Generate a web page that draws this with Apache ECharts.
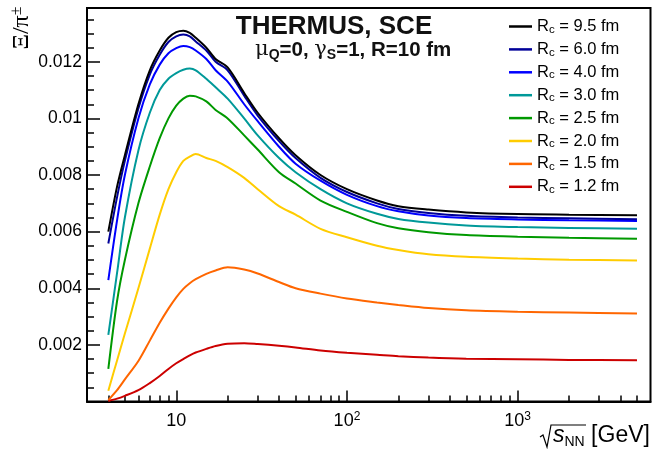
<!DOCTYPE html>
<html>
<head>
<meta charset="utf-8">
<script src="https://cdn.jsdelivr.net/npm/echarts@6/dist/echarts.min.js"></script>
<style>
  html, body { margin: 0; padding: 0; background: #ffffff; }
  #chart { width: 652px; height: 449px; }
</style>
</head>
<body>
<div id="chart"></div>
<script>
// Collision energies sqrt(s_NN) in GeV
const energies = [4, 4.5, 5, 6, 7, 8, 9, 10, 11, 12, 13, 15, 17, 20, 25, 30, 40, 50, 70, 100, 150, 200, 300, 500, 1000, 2000, 5000];

// Xi / pi ratio for each canonical correlation radius R_c
const rc95 = [0.0060, 0.00759, 0.0087, 0.0105, 0.0117, 0.0124, 0.01285, 0.01305, 0.0131, 0.01302, 0.01285, 0.0125, 0.0121, 0.0118, 0.0109, 0.0102, 0.0093, 0.0087, 0.0080, 0.0075, 0.0071, 0.0069, 0.00678, 0.00668, 0.00662, 0.0066, 0.00658];
const rc60 = [0.00558, 0.00722, 0.0085, 0.01035, 0.01155, 0.01225, 0.0127, 0.0129, 0.01296, 0.0129, 0.01272, 0.0124, 0.0120, 0.0117, 0.0108, 0.0101, 0.0092, 0.0086, 0.0079, 0.0074, 0.0070, 0.0068, 0.00666, 0.00656, 0.0065, 0.00647, 0.00644];
const rc40 = [0.00429, 0.0064, 0.0080, 0.0100, 0.0112, 0.0119, 0.0123, 0.01248, 0.01256, 0.01252, 0.0124, 0.0121, 0.0117, 0.0113, 0.0105, 0.0099, 0.0090, 0.0084, 0.0078, 0.0073, 0.0069, 0.00672, 0.00657, 0.00648, 0.00643, 0.0064, 0.00638];
const rc30 = [0.00235, 0.00454, 0.0065, 0.00887, 0.0102, 0.0110, 0.0114, 0.0116, 0.01172, 0.01176, 0.0117, 0.0114, 0.0111, 0.0107, 0.0100, 0.0094, 0.0086, 0.0081, 0.0075, 0.0070, 0.00663, 0.00645, 0.00632, 0.00622, 0.00616, 0.00613, 0.0061];
const rc25 = [0.00115, 0.00355, 0.0050, 0.0070, 0.0083, 0.0093, 0.0100, 0.01045, 0.0107, 0.0108, 0.01078, 0.0106, 0.0103, 0.0100, 0.0094, 0.0089, 0.0081, 0.0077, 0.0071, 0.0067, 0.0063, 0.00612, 0.00598, 0.00588, 0.00582, 0.00578, 0.00575];
const rc20 = [0.00038, 0.00145, 0.0024, 0.0040, 0.0054, 0.0066, 0.0075, 0.0081, 0.0085, 0.00865, 0.00874, 0.0086, 0.0085, 0.00828, 0.0079, 0.0075, 0.0069, 0.0066, 0.0061, 0.0058, 0.0055, 0.00535, 0.0052, 0.00511, 0.00505, 0.00501, 0.00498];
const rc15 = [0.00005, 0.0004, 0.00078, 0.00143, 0.00215, 0.00278, 0.00328, 0.00368, 0.00398, 0.00418, 0.00432, 0.00451, 0.00463, 0.00474, 0.00466, 0.00452, 0.00422, 0.0040, 0.00381, 0.00364, 0.0035, 0.00341, 0.0033, 0.00322, 0.00317, 0.00314, 0.00311];
const rc12 = [0.00002, 0.0001, 0.0002, 0.0004, 0.00065, 0.0009, 0.00115, 0.00135, 0.0015, 0.00163, 0.00173, 0.00186, 0.00196, 0.00204, 0.00206, 0.00203, 0.00197, 0.00191, 0.0018, 0.00172, 0.00165, 0.0016, 0.00155, 0.00151, 0.00149, 0.00147, 0.00146];

const radii = ['9.5', '6.0', '4.0', '3.0', '2.5', '2.0', '1.5', '1.2'];
const values = [rc95, rc60, rc40, rc30, rc25, rc20, rc15, rc12];
const colors = ['#000000', '#000099', '#0000ff', '#009999', '#009900', '#ffcc00', '#ff6600', '#cc0000'];

// Axis ticks
const xMajorTicks = [10, 100, 1000];
const xExponents = ['1', '2', '3'];
const yMajorTicks = [0, 0.002, 0.004, 0.006, 0.008, 0.010, 0.012];
const yLabelTicks = [0.002, 0.004, 0.006, 0.008, 0.010, 0.012];

const xMin = 3, xMax = 6000, yMin = 0, yMax = 0.0139;

const xMinorTicks = [];
for (let dec = 1; dec <= 1000; dec *= 10) {
  for (let m = 2; m <= 9; m++) {
    const v = m * dec;
    if (v > xMin && v < xMax && xMajorTicks.indexOf(v) < 0) xMinorTicks.push(v);
  }
}
const yMinorTicks = [];
for (let k = 1; k * 0.0005 < yMax; k++) {
  if (k % 4 !== 0) yMinorTicks.push(+(k * 0.0005).toFixed(4));
}

const seriesName = r => 'Rc = ' + r + ' fm';
const FONT = 'Liberation Sans, Arial, sans-serif';

const series = [];
for (let i = radii.length - 1; i >= 0; i--) {
  series.push({
    name: seriesName(radii[i]),
    type: 'line',
    xAxisIndex: 0,
    yAxisIndex: 0,
    data: energies.map((e, j) => [e, values[i][j]]),
    showSymbol: false,
    symbol: 'none',
    smooth: 0.3,
    lineStyle: { color: colors[i], width: 2 },
    itemStyle: { color: colors[i] },
    z: 3 + (radii.length - i)
  });
}

const chart = echarts.init(document.getElementById('chart'), null, { renderer: 'canvas' });

chart.setOption({
  animation: false,
  backgroundColor: '#ffffff',
  grid: {
    left: 87, right: 1.5, top: 8, bottom: 47.5,
    show: true, borderColor: '#000', borderWidth: 2, backgroundColor: 'transparent'
  },
  legend: {
    data: radii.map(seriesName),
    orient: 'vertical',
    left: 509, top: 18,
    padding: 0,
    itemWidth: 23, itemHeight: 2.5,
    itemGap: 5.4,
    icon: 'rect',
    formatter: name => '{r|R}{c|c}{r|' + name.slice(2) + '}',
    textStyle: {
      color: '#000', fontFamily: FONT,
      rich: {
        r: { fontSize: 16.5, lineHeight: 18, fontFamily: FONT, color: '#000' },
        c: { fontSize: 11.5, lineHeight: 18, fontFamily: FONT, color: '#000', verticalAlign: 'bottom' }
      }
    }
  },
  xAxis: [
    {
      type: 'log', logBase: 10, min: xMin, max: xMax,
      position: 'bottom',
      axisLine: { show: true, lineStyle: { color: '#000', width: 2 } },
      axisTick: { show: true, inside: true, length: 11, customValues: xMajorTicks, lineStyle: { color: '#000', width: 1.5 } },
      axisLabel: {
        show: true, customValues: xMajorTicks, margin: 9,
        formatter: v => {
          const i = xMajorTicks.indexOf(Math.round(v));
          return i === 0 ? '{b|10}' : '{b|10}{s|' + xExponents[i] + '}';
        },
        rich: {
          b: { fontSize: 18, fontFamily: FONT, color: '#000', lineHeight: 22 },
          s: { fontSize: 12, fontFamily: FONT, color: '#000', lineHeight: 22, verticalAlign: 'top' }
        }
      },
      splitLine: { show: false }
    },
    {
      type: 'log', logBase: 10, min: xMin, max: xMax,
      position: 'bottom',
      axisLine: { show: false },
      axisTick: { show: true, inside: true, length: 6, customValues: xMinorTicks, lineStyle: { color: '#000', width: 1.5 } },
      axisLabel: { show: false },
      splitLine: { show: false }
    }
  ],
  yAxis: [
    {
      type: 'value', min: yMin, max: yMax,
      position: 'left',
      axisLine: { show: true, lineStyle: { color: '#000', width: 2 } },
      axisTick: { show: true, inside: true, length: 13, customValues: yMajorTicks, lineStyle: { color: '#000', width: 1.5 } },
      axisLabel: {
        show: true, customValues: yLabelTicks, margin: 5,
        fontSize: 17.5, fontFamily: FONT, color: '#000',
        formatter: v => String(+v.toFixed(4))
      },
      splitLine: { show: false }
    },
    {
      type: 'value', min: yMin, max: yMax,
      position: 'left',
      axisLine: { show: false },
      axisTick: { show: true, inside: true, length: 7, customValues: yMinorTicks, lineStyle: { color: '#000', width: 1.5 } },
      axisLabel: { show: false },
      splitLine: { show: false }
    }
  ],
  graphic: [
    {
      type: 'text', x: 334, y: 27,
      style: { text: 'THERMUS, SCE', font: 'bold 26px ' + FONT, fill: '#111', align: 'center', verticalAlign: 'middle' }
    },
    {
      type: 'text', x: 255, y: 50,
      style: {
        text: '{g|μ}{s|Q}{b|=0, }{g|γ}{s|S}{b|=1, R=10 fm}',
        verticalAlign: 'middle',
        rich: {
          g: { fontSize: 21, fontFamily: 'DejaVu Serif, serif', fill: '#111', lineHeight: 25 },
          s: { fontSize: 14, fontWeight: 'bold', fontFamily: FONT, fill: '#111', lineHeight: 25, verticalAlign: 'bottom' },
          b: { fontSize: 20.5, fontWeight: 'bold', fontFamily: FONT, fill: '#111', lineHeight: 25 }
        }
      }
    },
    {
      type: 'text', x: 22, y: 28, rotation: Math.PI / 2,
      style: {
        text: '{g|Ξ/π}{s|±}',
        align: 'center', verticalAlign: 'middle',
        rich: {
          g: { fontSize: 24, fontFamily: 'Liberation Serif, serif', fill: '#000', lineHeight: 26 },
          s: { fontSize: 16, fontFamily: 'Liberation Serif, serif', fill: '#000', lineHeight: 26, verticalAlign: 'top' }
        }
      }
    },
    {
      type: 'text', x: 553, y: 436,
      style: {
        text: '{s|s}{n|NN}{g| [GeV]}',
        verticalAlign: 'middle',
        rich: {
          s: { fontSize: 23, fontStyle: 'italic', fontFamily: FONT, fill: '#000', lineHeight: 26 },
          n: { fontSize: 14, fontFamily: FONT, fill: '#000', lineHeight: 26, verticalAlign: 'bottom' },
          g: { fontSize: 23, fontFamily: FONT, fill: '#000', lineHeight: 26 }
        }
      }
    },
    {
      type: 'polyline',
      shape: { points: [[540, 437], [543, 435], [547, 447], [551, 425], [586, 425]] },
      style: { stroke: '#000', lineWidth: 1.2, fill: null }
    }
  ],
  series: series
});
</script>
</body>
</html>
